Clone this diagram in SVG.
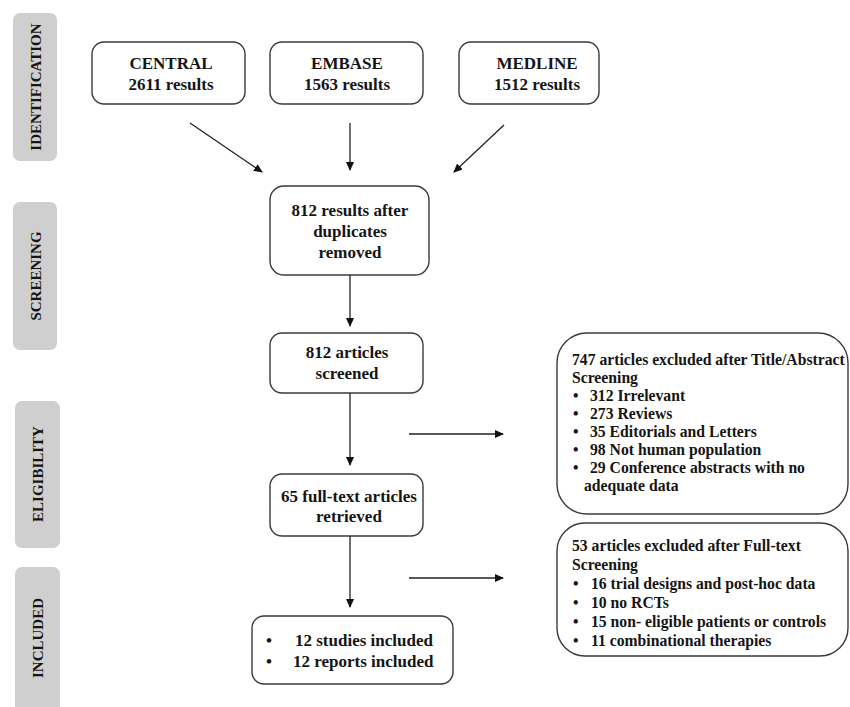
<svg xmlns="http://www.w3.org/2000/svg" width="850" height="707" viewBox="0 0 850 707">
<style>
text{font-family:"Liberation Serif","Times New Roman",serif;font-weight:bold;fill:#151515}
.box{fill:#fff;stroke:#3a3a3a;stroke-width:1.4}
.side{fill:#cfcfcf}
.st{font-size:15px}
.t17{font-size:17px}
.t16{font-size:15.7px}
.c{text-anchor:middle}
.ln{stroke:#222;stroke-width:1.3;fill:none}
</style>
<defs>
<marker id="ah" markerWidth="10" markerHeight="10" refX="8" refY="4" orient="auto" markerUnits="userSpaceOnUse">
<path d="M0,0 L9,4 L0,8 Z" fill="#111"/>
</marker>
</defs>
<rect width="850" height="707" fill="#fff"/>

<g id="side-identification"><rect class="side" x="13" y="13" width="44" height="148" rx="7"/><text class="st c" transform="translate(41,87) rotate(-90)">IDENTIFICATION</text></g>
<g id="side-screening"><rect class="side" x="13" y="202" width="44" height="148" rx="7"/><text class="st c" transform="translate(41,276) rotate(-90)">SCREENING</text></g>
<g id="side-eligibility"><rect class="side" x="15" y="401" width="45" height="147" rx="7"/><text class="st c" transform="translate(43,474) rotate(-90)">ELIGIBILITY</text></g>
<g id="side-included"><rect class="side" x="15" y="567" width="45" height="150" rx="7"/><text class="st c" transform="translate(43,638) rotate(-90)">INCLUDED</text></g>

<g id="central"><rect class="box" x="92" y="42" width="153" height="62" rx="12"/><text class="t17 c" x="171" y="69">CENTRAL</text><text class="t17 c" x="171" y="90">2611 results</text></g>
<g id="embase"><rect class="box" x="270" y="42" width="153" height="62" rx="12"/><text class="t17 c" x="347" y="69">EMBASE</text><text class="t17 c" x="347" y="90">1563 results</text></g>
<g id="medline"><rect class="box" x="459" y="42" width="140" height="62" rx="12"/><text class="t17 c" x="537" y="69">MEDLINE</text><text class="t17 c" x="537" y="90">1512 results</text></g>

<g id="dedup"><rect class="box" x="270" y="186" width="159" height="89" rx="14"/><text class="t17 c" x="350" y="216">812 results after</text><text class="t17 c" x="350" y="237">duplicates</text><text class="t17 c" x="350" y="258">removed</text></g>
<g id="screened"><rect class="box" x="270" y="333" width="153" height="60" rx="12"/><text class="t17 c" x="347" y="358">812 articles</text><text class="t17 c" x="347" y="379">screened</text></g>
<g id="fulltext"><rect class="box" x="270" y="474" width="153" height="62" rx="12"/><text class="t17 c" x="349" y="502">65 full-text articles</text><text class="t17 c" x="349" y="522">retrieved</text></g>
<g id="included"><rect class="box" x="252" y="616" width="201" height="68" rx="12"/><text class="t17" x="266" y="646">•</text><text class="t17" x="295" y="646">12 studies included</text><text class="t17" x="266" y="667">•</text><text class="t17" x="293" y="667">12 reports included</text></g>

<g id="excl1"><rect class="box" x="557" y="333" width="291" height="181" rx="30"/>
<text class="t16" x="572" y="365">747 articles excluded after Title/Abstract</text>
<text class="t16" x="572" y="383">Screening</text>
<text class="t16" x="573" y="401">•</text><text class="t16" x="590" y="401">312 Irrelevant</text>
<text class="t16" x="573" y="419">•</text><text class="t16" x="590" y="419">273 Reviews</text>
<text class="t16" x="573" y="437">•</text><text class="t16" x="590" y="437">35 Editorials and Letters</text>
<text class="t16" x="573" y="455">•</text><text class="t16" x="590" y="455">98 Not human population</text>
<text class="t16" x="573" y="473">•</text><text class="t16" x="590" y="473">29 Conference abstracts with no</text>
<text class="t16" x="584" y="491">adequate data</text></g>

<g id="excl2"><rect class="box" x="557" y="523" width="291" height="133" rx="28"/>
<text class="t16" x="572" y="551">53 articles excluded after Full-text</text>
<text class="t16" x="572" y="570">Screening</text>
<text class="t16" x="573" y="589">•</text><text class="t16" x="591" y="589">16 trial designs and post-hoc data</text>
<text class="t16" x="573" y="608">•</text><text class="t16" x="591" y="608">10 no RCTs</text>
<text class="t16" x="573" y="627">•</text><text class="t16" x="591" y="627">15 non- eligible patients or controls</text>
<text class="t16" x="573" y="646">•</text><text class="t16" x="591" y="646">11 combinational therapies</text></g>

<g id="connectors">
<line class="ln" x1="190" y1="123" x2="262" y2="172" marker-end="url(#ah)"/>
<line class="ln" x1="350" y1="123" x2="350" y2="170" marker-end="url(#ah)"/>
<line class="ln" x1="504" y1="125" x2="454" y2="172" marker-end="url(#ah)"/>
<line class="ln" x1="350" y1="275" x2="350" y2="326" marker-end="url(#ah)"/>
<line class="ln" x1="350" y1="393" x2="350" y2="465" marker-end="url(#ah)"/>
<line class="ln" x1="350" y1="536" x2="350" y2="607" marker-end="url(#ah)"/>
<line class="ln" x1="409" y1="434" x2="503" y2="434" marker-end="url(#ah)"/>
<line class="ln" x1="409" y1="578" x2="503" y2="578" marker-end="url(#ah)"/>
</g>
</svg>
